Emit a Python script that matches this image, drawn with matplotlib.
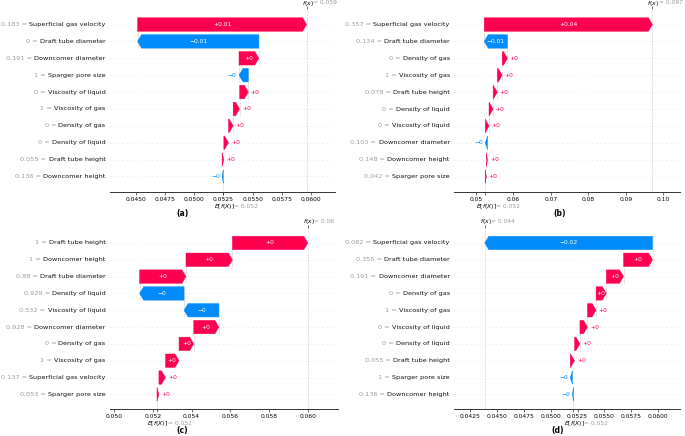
import re
import matplotlib
matplotlib.use('Agg')
import matplotlib.pyplot as plt
import matplotlib.transforms as mtransforms
from matplotlib.ticker import FormatStrFormatter

RED = (1.0, 0.0, 0.31764706)
BLUE = (0.0, 0.54337757, 0.98337906)
GRAY = '#999999'

# ---- panel (a)
a_names = ['Superficial gas velocity', 'Draft tube diameter', 'Downcomer diameter', 'Sparger pore size',
           'Viscosity of liquid', 'Viscosity of gas', 'Density of gas', 'Density of liquid',
           'Draft tube height', 'Downcomer height']
a_feats = ['0.183', '0', '0.191', '1', '0', '1', '0', '0', '0.055', '0.136']
a_shap = [0.0145, -0.0104, 0.0017, -0.0008, 0.00075, 0.00055, 0.0004, 0.0004, 0.00015, -0.0001]
a_base = 0.05248
a_fx_text = '0.059'
a_ex_text = '0.052'
a_ticks = [0.0450, 0.0475, 0.0500, 0.0525, 0.0550, 0.0575, 0.0600]

# ---- panel (b)
b_names = ['Superficial gas velocity', 'Draft tube diameter', 'Density of gas', 'Viscosity of gas',
           'Draft tube height', 'Density of liquid', 'Viscosity of liquid', 'Downcomer diameter',
           'Downcomer height', 'Sparger pore size']
b_feats = ['0.357', '0.134', '0', '1', '0.078', '0', '0', '0.103', '0.148', '0.042']
b_shap = [0.0449, -0.0062, 0.0014, 0.0013, 0.00112, 0.0011, 0.0010, -0.0006, 0.0003, 0.0003]
b_base = 0.05248
b_fx_text = '0.097'
b_ex_text = '0.052'
b_ticks = [0.05, 0.06, 0.07, 0.08, 0.09, 0.10]

# ---- panel (c)
c_names = ['Draft tube height', 'Downcomer height', 'Draft tube diameter', 'Density of liquid',
           'Viscosity of liquid', 'Downcomer diameter', 'Density of gas', 'Viscosity of gas',
           'Superficial gas velocity', 'Sparger pore size']
c_feats = ['1', '1', '0.88', '0.929', '0.532', '0.928', '0', '1', '0.137', '0.053']
c_shap = [0.0039, 0.0024, 0.0024, -0.0023, -0.0018, 0.0013, 0.00076, 0.0007, 0.00034, 0.0001]
c_base = 0.05221
c_fx_text = '0.06'
c_ex_text = '0.052'
c_ticks = [0.050, 0.052, 0.054, 0.056, 0.058, 0.060]

# ---- panel (d)
d_names = ['Superficial gas velocity', 'Draft tube diameter', 'Downcomer diameter', 'Density of gas',
           'Viscosity of gas', 'Viscosity of liquid', 'Density of liquid', 'Draft tube height',
           'Sparger pore size', 'Downcomer height']
d_feats = ['0.082', '0.355', '0.191', '0', '1', '0', '0', '0.055', '1', '0.136']
d_shap = [-0.0156, 0.0027, 0.0016, 0.00095, 0.0008, 0.0007, 0.0005, 0.0004, -0.0002, -0.0001]
d_base = 0.05212
d_fx_text = '0.044'
d_ex_text = '0.052'
d_ticks = [0.0425, 0.0450, 0.0475, 0.0500, 0.0525, 0.0550, 0.0575, 0.0600]

panels = [
    ('(a)', a_names, a_feats, a_shap, a_base, a_fx_text, a_ex_text, a_ticks, '%.4f'),
    ('(b)', b_names, b_feats, b_shap, b_base, b_fx_text, b_ex_text, b_ticks, '%.2f'),
    ('(c)', c_names, c_feats, c_shap, c_base, c_fx_text, c_ex_text, c_ticks, '%.3f'),
    ('(d)', d_names, d_feats, d_shap, d_base, d_fx_text, d_ex_text, d_ticks, '%.4f'),
]

# layout in pixels: left, top, right, bottom, xlim, letter position
layout = [
    (110, 9.5, 335, 191.5, (0.04277, 0.06206), (182.7, 213.3)),
    (454.3, 9.5, 680, 191.7, (0.04421, 0.10446), (560, 213.3)),
    (110, 228, 338, 409.3, (0.04978, 0.06157), (182, 430)),
    (454.3, 228, 680, 409.3, (0.04104, 0.06202), (558, 430)),
]

W, H = 685, 436
fig = plt.figure(figsize=(W / 100, H / 100), dpi=100)
renderer = fig.canvas.get_renderer()


def px(p):
    # pixels -> points at 100 dpi
    return p * 0.72


def format_value(v, fmt):
    s = fmt % v
    s = re.sub(r'\.?0+$', '', s)
    if s[0] == '-':
        s = '\u2212' + s[1:]
    return s


for (letter, names, feats, shap, base, fx_text, ex_text, ticks, tfmt), (l, t, r, b, xlim, lp) in zip(panels, layout):
    ax = fig.add_axes([l / W, 1 - b / H, (r - l) / W, (b - t) / H])
    n = len(names)
    ax.set_xlim(xlim)
    ax.set_ylim(-0.89, n - 1 + 0.89)
    px_per_unit = (r - l) / (xlim[1] - xlim[0])
    hl = 4.0 / px_per_unit

    fx = base + sum(shap)
    loc = fx
    for i, v in enumerate(shap):
        y = n - 1 - i
        loc -= v
        sign = 1 if v >= 0 else -1
        d = abs(v)
        arr = ax.arrow(loc, y, sign * max(d - hl, 1e-7), 0, width=0.8, head_width=0.8,
                       head_length=min(d, hl), color=RED if v >= 0 else BLUE, lw=0.3)
        if i + 4 < n:
            ax.plot([loc, loc], [y - 1 - 0.4, y + 0.4], color='#bbbbbb', lw=0.5, dashes=(1, 1), zorder=-1)
        label = format_value(v, '%+0.02f')
        txt = ax.text(loc + v / 2, y, label, ha='center', va='center', color='white', fontsize=4.3)
        if txt.get_window_extent(renderer).width * 1.1 > arr.get_window_extent(renderer).width:
            txt.remove()
            off = mtransforms.offset_copy(ax.transData, fig=fig, x=sign * px(2.4), y=0, units='points')
            ax.text(loc + v, y, label, ha='left' if v >= 0 else 'right', va='center',
                    color=RED if v >= 0 else BLUE, fontsize=4.3, transform=off)

    ys = [n - 1 - i for i in range(n)]
    for y in ys:
        ax.axhline(y, color='#cccccc', lw=0.5, dashes=(1, 5), zorder=-1)
    ax.axvline(base, 0, 1 / n, color='#cccccc', ls='--', lw=0.4, zorder=-1)
    ax.axvline(fx, 0, 1, color='#cccccc', ls='--', lw=0.4, zorder=-1)

    # y labels: black feature name, gray "value =" in front of it
    ax.set_yticks([])
    lab_tr = mtransforms.offset_copy(ax.get_yaxis_transform(), fig=fig, x=-px(4.5), y=0, units='points')
    for y, nm, fv in zip(ys, names, feats):
        name_txt = ax.text(0, y, nm, ha='right', va='center', fontsize=4.65, color='#111111', transform=lab_tr)
        ax.annotate(f'{fv} = ', xy=(0, 0.5), xycoords=name_txt, ha='right', va='center',
                    fontsize=4.65, color=GRAY)

    ax.set_xticks(ticks)
    ax.xaxis.set_major_formatter(FormatStrFormatter(tfmt))
    ax.tick_params(axis='x', labelsize=4.3, length=2.2, width=0.5, pad=1.5, color='#333333')
    for s in ['left', 'top', 'right']:
        ax.spines[s].set_visible(False)
    ax.spines['bottom'].set_linewidth(0.7)
    ax.spines['bottom'].set_color('#333333')

    # f(x) tick on top, E[f(X)] tick on the bottom
    ax_t = ax.twiny()
    ax_t.set_xlim(xlim)
    ax_t.set_xticks([fx])
    ax_t.set_xticklabels([''])
    ax_t.tick_params(axis='x', length=2.2, width=0.5, color='#333333')
    ax_b = ax.twiny()
    ax_b.set_xlim(xlim)
    ax_b.xaxis.set_ticks_position('bottom')
    ax_b.set_xticks([base])
    ax_b.set_xticklabels([''])
    ax_b.tick_params(axis='x', length=2.2, width=0.5, color='#333333')
    for a2 in (ax_t, ax_b):
        for s in a2.spines.values():
            s.set_visible(False)

    ax.annotate('$f(x)$', xy=(fx, 1), xycoords=('data', 'axes fraction'), xytext=(px(-5), px(6.5)),
                textcoords='offset points', ha='left', va='center', fontsize=4.3)
    ax.annotate('= ' + fx_text, xy=(fx, 1), xycoords=('data', 'axes fraction'), xytext=(px(6.5), px(6.5)),
                textcoords='offset points', ha='left', va='center', fontsize=4.3, color=GRAY)
    ax.annotate('$E[f(X)]$', xy=(base, 0), xycoords=('data', 'axes fraction'), xytext=(px(-9.5), px(-14.5)),
                textcoords='offset points', ha='left', va='center', fontsize=4.3)
    ax.annotate('= ' + ex_text, xy=(base, 0), xycoords=('data', 'axes fraction'), xytext=(px(11), px(-14.5)),
                textcoords='offset points', ha='left', va='center', fontsize=4.3, color=GRAY)

    fig.text(lp[0] / W, 1 - lp[1] / H, letter, ha='center', va='center', fontsize=5.5, fontweight='bold')

fig.savefig('out.png', dpi=100)
